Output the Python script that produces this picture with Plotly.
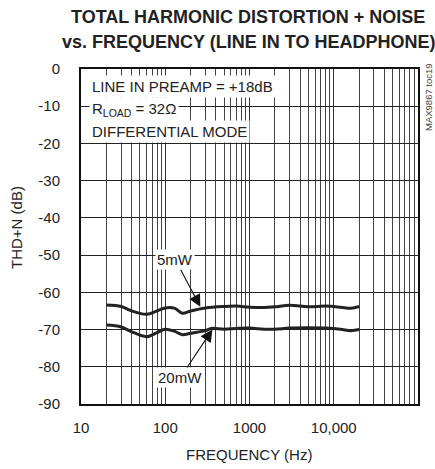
import plotly.graph_objects as go
import numpy as np

freq_5mw = [20, 30, 40, 60, 80, 100, 130, 160, 200, 300, 500, 700, 1000, 1500, 2000, 3000, 5000, 8000, 12000, 16000, 20000]
thd_5mw = [-63.4, -63.8, -65.0, -65.9, -65.0, -64.2, -64.3, -65.6, -65.0, -64.2, -63.8, -63.7, -64.0, -64.1, -63.9, -63.5, -63.9, -63.7, -64.0, -64.3, -63.8]

freq_20mw = [20, 30, 40, 60, 80, 100, 130, 160, 200, 300, 350, 500, 700, 1000, 1500, 2000, 3000, 5000, 8000, 12000, 16000, 20000]
thd_20mw = [-68.8, -69.3, -70.6, -71.9, -70.8, -69.9, -70.5, -71.4, -71.0, -70.3, -69.7, -69.9, -69.7, -69.6, -69.9, -69.9, -69.6, -69.5, -69.6, -69.9, -70.3, -70.0]

x_tick_vals = [10, 100, 1000, 10000, 100000]
x_tick_text = ["10", "100", "1000", "10,000", "100,000"]
y_tick_vals = [0, -10, -20, -30, -40, -50, -60, -70, -80, -90]
y_tick_text = ["0", "-10", "-20", "-30", "-40", "-50", "-60", "-70", "-80", "-90"]

minor_vals = [m * d for d in [10, 100, 1000, 10000] for m in range(2, 10)]

FONT = "Liberation Sans, Arial, sans-serif"

L, R, T, B, W, H = 81, 17, 69, 65, 435, 469
PW, PH = W - L - R, H - T - B


def px(xp):
    return (xp - L) / PW


def py(yp):
    return 1 - (yp - T) / PH


fig = go.Figure()
for fx, fy in [(freq_5mw, thd_5mw), (freq_20mw, thd_20mw)]:
    fig.add_trace(go.Scatter(x=fx, y=fy, mode="lines",
                             line=dict(color="#222222", width=3, shape="spline", smoothing=1.0),
                             showlegend=False, hoverinfo="skip"))

fig.update_layout(
    width=W, height=H,
    margin=dict(l=L, r=R, t=T, b=B),
    paper_bgcolor="white", plot_bgcolor="white",
    font=dict(family=FONT, size=15, color="#222"),
)

fig.update_xaxes(type="log", range=[1, 5], tickvals=x_tick_vals, ticktext=x_tick_text,
                 showgrid=True, gridcolor="#333", gridwidth=1, ticks="", ticklabelstandoff=9,
                 minor=dict(tickvals=minor_vals, showgrid=True, gridcolor="#444", gridwidth=1, ticks=""),
                 showline=True, linecolor="#111", linewidth=2, mirror=True, zeroline=False,
                 automargin=False, title=None, tickfont=dict(size=15))
fig.update_yaxes(range=[-90, 0], tickvals=y_tick_vals, ticktext=y_tick_text, showgrid=True,
                 gridcolor="#222", gridwidth=1, automargin=False,
                 ticks="", ticklabelstandoff=16, showline=True, linecolor="#111", linewidth=2, mirror=True,
                 zeroline=False, title=None, tickfont=dict(size=15))

# titles
fig.add_annotation(x=px(248), y=py(17), xref="paper", yref="paper", showarrow=False,
                   text="<b>TOTAL HARMONIC DISTORTION + NOISE</b>", xanchor="center", yanchor="middle",
                   font=dict(family=FONT, size=18, color="#222"))
fig.add_annotation(x=px(248), y=py(42), xref="paper", yref="paper", showarrow=False,
                   text="<b>vs. FREQUENCY (LINE IN TO HEADPHONE)</b>", xanchor="center", yanchor="middle",
                   font=dict(family=FONT, size=18, color="#222"))
fig.add_annotation(x=px(249), y=py(455), xref="paper", yref="paper", showarrow=False,
                   text="FREQUENCY (Hz)", xanchor="center", yanchor="middle",
                   font=dict(family=FONT, size=15, color="#222"))
fig.add_annotation(x=px(16), y=py(228), xref="paper", yref="paper", showarrow=False,
                   text="THD+N (dB)", textangle=-90, xanchor="center", yanchor="middle",
                   font=dict(family=FONT, size=15, color="#222"))

# text block
for txt, yy in [("LINE IN PREAMP = +18dB", -4.8), ("R<sub>LOAD</sub> = 32Ω", -11.0), ("DIFFERENTIAL MODE", -16.9)]:
    fig.add_annotation(x=1.0, y=yy, xref="x", yref="y", text=txt, showarrow=False,
                       xanchor="left", yanchor="middle", xshift=8, bgcolor="white",
                       font=dict(family=FONT, size=15, color="#222"), borderpad=2)

fig.add_annotation(x=np.log10(261), y=-63.9, xref="x", yref="y", text="5mW", showarrow=True,
                   ax=-25, ay=-47, arrowhead=2, arrowsize=2.2, arrowwidth=1.1, arrowcolor="#111",
                   bgcolor="white", font=dict(family=FONT, size=15, color="#222"))
fig.add_annotation(x=np.log10(363), y=-70.0, xref="x", yref="y", text="20mW", showarrow=True,
                   ax=-32, ay=48, arrowhead=2, arrowsize=2.2, arrowwidth=1.1, arrowcolor="#111",
                   bgcolor="white", font=dict(family=FONT, size=15, color="#222"))

fig.add_annotation(x=px(428), y=py(97), xref="paper", yref="paper", text="MAX9867 toc19", showarrow=False,
                   textangle=-90, xanchor="center", yanchor="middle",
                   font=dict(family=FONT, size=9.5, color="#444"))

fig.write_html("out.html", config={"displayModeBar": False},
               post_script="document.body.style.margin='0';document.body.style.overflow='hidden';")
